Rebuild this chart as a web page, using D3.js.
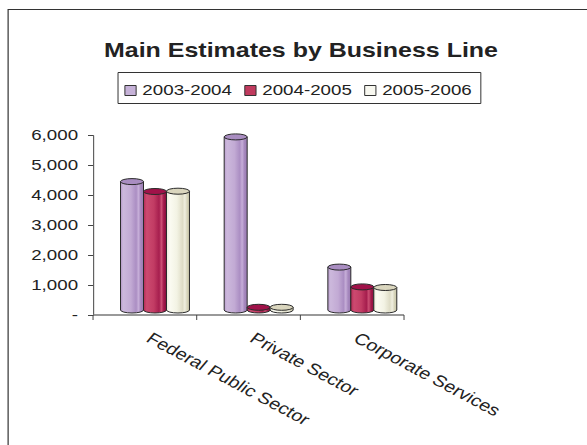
<!DOCTYPE html>
<html>
<head>
<meta charset="utf-8">
<script src="https://cdn.jsdelivr.net/npm/d3@7"></script>
<style>
  html, body { margin: 0; padding: 0; background: #fff; }
  svg { display: block; }
  text { font-family: "Liberation Sans", Arial, sans-serif; fill: #222; }
</style>
</head>
<body>
<svg id="chart" width="587" height="445"></svg>
<script>
// ---- data ----
const title = "Main Estimates by Business Line";
const categories = ["Federal Public Sector", "Private Sector", "Corporate Services"];
const seriesNames = ["2003-2004", "2004-2005", "2005-2006"];
const values2003 = [4280, 5770, 1430];
const values2004 = [3950, 90, 770];
const values2005 = [3960, 90, 750];
const yTicks = [0, 1000, 2000, 3000, 4000, 5000, 6000];

// ---- styles ----
const colors = {
  "2003-2004": { swatch: "#c6b2d8", top: "#a98dc1",
    stops: [[0,"#b89ccc"],[0.12,"#ccb8dc"],[0.45,"#c2aad4"],[0.68,"#ab8ec3"],[0.78,"#c6aed8"],[0.88,"#a688be"],[1,"#9a7cb2"]] },
  "2004-2005": { swatch: "#c03a5e", top: "#a01249",
    stops: [[0,"#b42a56"],[0.14,"#cc4a70"],[0.45,"#c23c64"],[0.68,"#a61e4e"],[0.78,"#cc5074"],[0.88,"#a21a4a"],[1,"#8c0e3e"]] },
  "2005-2006": { swatch: "#f8f8f0", top: "#dad6be",
    stops: [[0,"#ecebd8"],[0.14,"#fbfbf2"],[0.45,"#f3f3e4"],[0.7,"#dedcc6"],[0.8,"#f0efe0"],[0.9,"#d6d4ba"],[1,"#cac7aa"]] }
};

const SX = 587 / 470;           // the picture is horizontally stretched
const svg = d3.select("#chart");
const defs = svg.append("defs");
const g = svg.append("g").attr("transform", `scale(${SX},1)`);

seriesNames.forEach((s, i) => {
  const gr = defs.append("linearGradient").attr("id", "grad" + i)
    .attr("x1", "0").attr("x2", "1").attr("y1", "0").attr("y2", "0");
  colors[s].stops.forEach(([o, c]) => gr.append("stop").attr("offset", o).attr("stop-color", c));
});

// frame
g.append("rect").attr("x", 6.5).attr("y", 9.5).attr("width", 480).attr("height", 500)
  .attr("fill", "none").attr("stroke", "#333").attr("stroke-width", 1.2)
  .attr("vector-effect", "non-scaling-stroke");

// title
g.append("text").attr("x", 241).attr("y", 57).attr("text-anchor", "middle")
  .style("font-size", "20px").style("font-weight", "bold").text(title);

// legend
const legend = g.append("g");
legend.append("rect").attr("x", 94.5).attr("y", 72.5).attr("width", 290.5).attr("height", 31)
  .attr("fill", "#fff").attr("stroke", "#333").attr("vector-effect", "non-scaling-stroke");
const legX = d3.scalePoint().domain(seriesNames).range([100, 292]);
seriesNames.forEach(s => {
  const x0 = legX(s);
  legend.append("rect").attr("x", x0).attr("y", 85.5).attr("width", 9).attr("height", 10)
    .attr("fill", colors[s].swatch).attr("stroke", "#333").attr("vector-effect", "non-scaling-stroke");
  legend.append("text").attr("x", x0 + 14).attr("y", 95.5).style("font-size", "15px").text(s);
});

// scales
const x = d3.scaleBand().domain(categories).range([74.5, 323.5]);
const xs = d3.scaleBand().domain(seriesNames).range([22, 22 + 55.2]);
const y = d3.scaleLinear().domain([0, 6000]).range([315, 135]);

// y axis
const yAxis = g.append("g").attr("transform", "translate(74.5,0)")
  .call(d3.axisLeft(y).tickValues(yTicks).tickSize(4).tickPadding(8)
    .tickFormat(d => d === 0 ? "-" : d3.format(",")(d)));
yAxis.select(".domain").attr("stroke", "#444").attr("vector-effect", "non-scaling-stroke");
yAxis.selectAll(".tick line").attr("stroke", "#444").attr("vector-effect", "non-scaling-stroke");
yAxis.selectAll("text").style("font-size", "15px").style("font-family", "'Liberation Sans', Arial, sans-serif")
  .attr("fill", "#222");

// x axis (line with ticks at category boundaries)
const bounds = categories.map(c => x(c)).concat([x.range()[1]]);
const xAxis = g.append("g");
xAxis.append("line").attr("x1", x.range()[0]).attr("x2", x.range()[1]).attr("y1", y(0)).attr("y2", y(0))
  .attr("stroke", "#777").attr("stroke-width", 1.3).attr("vector-effect", "non-scaling-stroke");
xAxis.selectAll("line.tk").data(bounds).enter().append("line").attr("class", "tk")
  .attr("x1", d => d).attr("x2", d => d).attr("y1", y(0)).attr("y2", y(0) + 5)
  .attr("stroke", "#444").attr("vector-effect", "non-scaling-stroke");
xAxis.selectAll("text").data(categories).enter().append("text")
  .attr("transform", c => `translate(${x(c) + x.bandwidth() / 2},341) rotate(33.6)`)
  .style("font-size", "16px").text(c => c);

// cylinders
const dataRows = [values2003, values2004, values2005];
const BASE_SHIFT = 5, RY = 3;
const bars = [];
categories.forEach((c, ci) => {
  seriesNames.forEach((s, si) => bars.push({ c, s, si, v: dataRows[si][ci] }));
});
const bw = xs.bandwidth();
const cyl = g.selectAll("g.cyl").data(bars).enter().append("g").attr("class", "cyl");
cyl.append("path")
  .attr("d", d => {
    const x0 = x(d.c) + xs(d.s), x1 = x0 + bw, rx = bw / 2;
    const yt = y(d.v) - BASE_SHIFT, yb = y(0) - BASE_SHIFT;
    return `M${x0},${yt} L${x0},${yb} A${rx},${RY} 0 0 0 ${x1},${yb} L${x1},${yt} Z`;
  })
  .attr("fill", d => `url(#grad${d.si})`)
  .attr("stroke", "#2a2a2a").attr("stroke-width", 1).attr("vector-effect", "non-scaling-stroke");
cyl.append("ellipse")
  .attr("cx", d => x(d.c) + xs(d.s) + bw / 2)
  .attr("cy", d => y(d.v) - BASE_SHIFT)
  .attr("rx", bw / 2).attr("ry", RY)
  .attr("fill", d => colors[d.s].top)
  .attr("stroke", "#2a2a2a").attr("stroke-width", 1).attr("vector-effect", "non-scaling-stroke");
</script>
</body>
</html>
